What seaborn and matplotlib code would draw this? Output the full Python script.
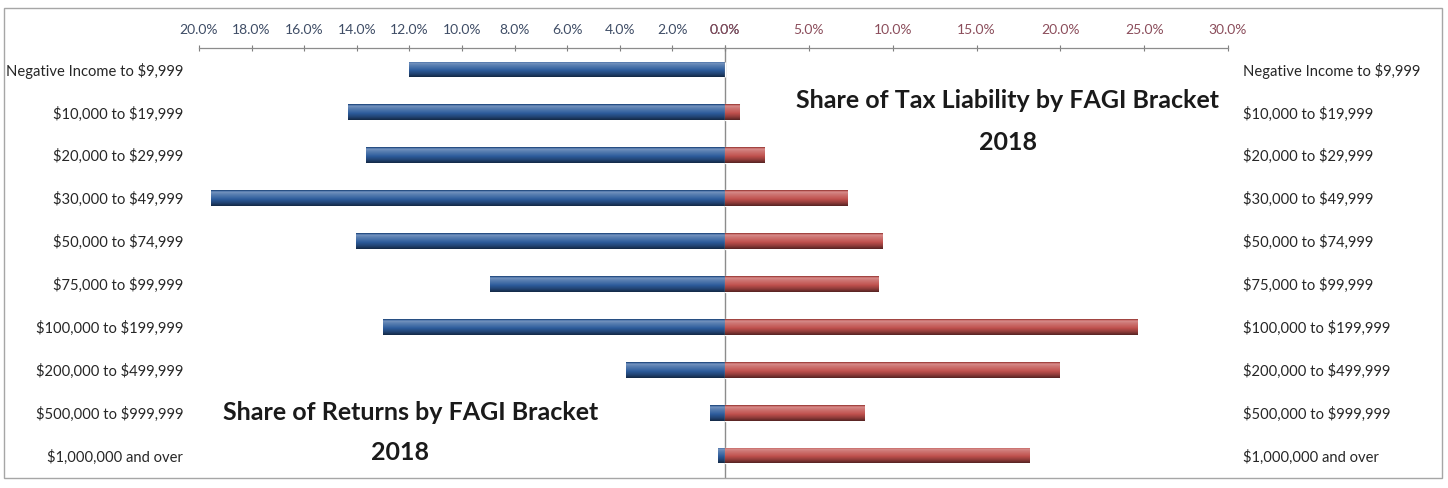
import numpy as np
import pandas as pd
import matplotlib
matplotlib.use("Agg")
import matplotlib.pyplot as plt
import seaborn as sns
from matplotlib.colors import to_rgb
from matplotlib.patches import Rectangle

brackets = ["Negative Income to $9,999", "$10,000 to $19,999", "$20,000 to $29,999",
            "$30,000 to $49,999", "$50,000 to $74,999", "$75,000 to $99,999",
            "$100,000 to $199,999", "$200,000 to $499,999", "$500,000 to $999,999",
            "$1,000,000 and over"]
share_returns = [12.0, 14.35, 13.65, 19.55, 14.03, 8.94, 12.99, 3.78, 0.57, 0.27]
share_tax = [0.0, 0.89, 2.38, 7.28, 9.42, 9.18, 24.6, 19.94, 8.33, 18.15]
left_ticks = [20, 18, 16, 14, 12, 10, 8, 6, 4, 2, 0]
right_ticks = [0, 5, 10, 15, 20, 25, 30]

sns.set_theme(style="white")
plt.rcParams['font.family'] = ['Lato', 'DejaVu Sans']
plt.rcParams['text.parse_math'] = False

W, H = 1448, 488
fig = plt.figure(figsize=(W / 100, H / 100), dpi=100)
fig.patch.set_facecolor("white")

x_left, x_zero, x_right = 199, 725, 1228
y_top, y_bot = 48, 477
axL = fig.add_axes([x_left / W, 1 - y_bot / H, (x_zero - x_left) / W, (y_bot - y_top) / H])
axR = fig.add_axes([x_zero / W, 1 - y_bot / H, (x_right - x_zero) / W, (y_bot - y_top) / H])

df = pd.DataFrame({"bracket": brackets, "returns": share_returns, "tax": share_tax})
blue = "#2d5c9c"
red = "#c0504d"
sns.barplot(data=df, x="returns", y="bracket", orient="h", ax=axL, color=blue, width=0.37, saturation=1)
sns.barplot(data=df, x="tax", y="bracket", orient="h", ax=axR, color=red, width=0.37, saturation=1)


def shade(ax, base):
    b = np.array(to_rgb(base))
    n = 40
    t = np.linspace(0, 1, n)
    prof = np.interp(t, [0, 0.1, 0.28, 0.55, 0.8, 1.0], [-0.3, 0.35, 0.2, 0.02, -0.25, -0.55])
    cols = []
    for p in prof:
        if p >= 0:
            cols.append(b + (1 - b) * p)
        else:
            cols.append(b * (1 + p))
    grad = np.array(cols).reshape(n, 1, 3)
    for patch in list(ax.patches):
        bb = patch.get_bbox()
        if bb.width == 0:
            continue
        im = ax.imshow(grad, extent=(bb.x0, bb.x1, bb.y0, bb.y1), origin="lower",
                       aspect="auto", zorder=patch.get_zorder() + 0.1, interpolation="bilinear")
        im.set_clip_path(patch)


shade(axL, blue)
shade(axR, red)

axL.set_xlim(20, 0)
axR.set_xlim(0, 30)
for ax in (axL, axR):
    ax.set_ylim(9.5, -0.5)
    ax.set_xlabel("")
    ax.set_ylabel("")
    ax.set_facecolor("none")
    ax.xaxis.tick_top()
    ax.tick_params(axis="x", which="both", top=True, bottom=False, length=4, width=0.8,
                   color="#7f7f7f", direction="inout", pad=7, labelsize=10)
    ax.tick_params(axis="y", length=0, labelsize=10.6, labelcolor="#262626")
    for s in ("left", "right", "bottom"):
        ax.spines[s].set_visible(False)
    ax.spines["top"].set_visible(True)
    ax.spines["top"].set_color("#8c8c8c")
    ax.spines["top"].set_linewidth(0.9)

axL.set_xticks(left_ticks)
axL.set_xticklabels([f"{v:.1f}%" for v in left_ticks], color="#3f4d66")
axR.set_xticks(right_ticks)
axR.set_xticklabels([f"{v:.1f}%" for v in right_ticks], color="#8b4d5b")

axL.set_yticks(range(len(brackets)))
axL.set_yticklabels(brackets)
axL.tick_params(axis="y", pad=11.5)
axR.set_yticks(range(len(brackets)))
axR.set_yticklabels(brackets)
axR.yaxis.tick_right()
axR.tick_params(axis="y", pad=10.8, left=False, right=False)

axL.spines["right"].set_visible(True)
axL.spines["right"].set_color("#8c8c8c")
axL.spines["right"].set_linewidth(1.0)

tkw = dict(ha="center", va="center", fontsize=18, fontweight="bold", color="#1a1a1a")
fig.text(1008 / W, 1 - 101 / H, "Share of Tax Liability by FAGI Bracket", **tkw)
fig.text(1008 / W, 1 - 143 / H, "2018", **tkw)
fig.text(411 / W, 1 - 412 / H, "Share of Returns by FAGI Bracket", **tkw)
fig.text(400 / W, 1 - 452 / H, "2018", **tkw)

fig.add_artist(Rectangle((4 / W, 1 - 478 / H), (1442 - 4) / W, (478 - 8) / H,
                         transform=fig.transFigure, fill=False, edgecolor="#a6a6a6", linewidth=1))

fig.savefig("out.png", dpi=100, facecolor="white")
